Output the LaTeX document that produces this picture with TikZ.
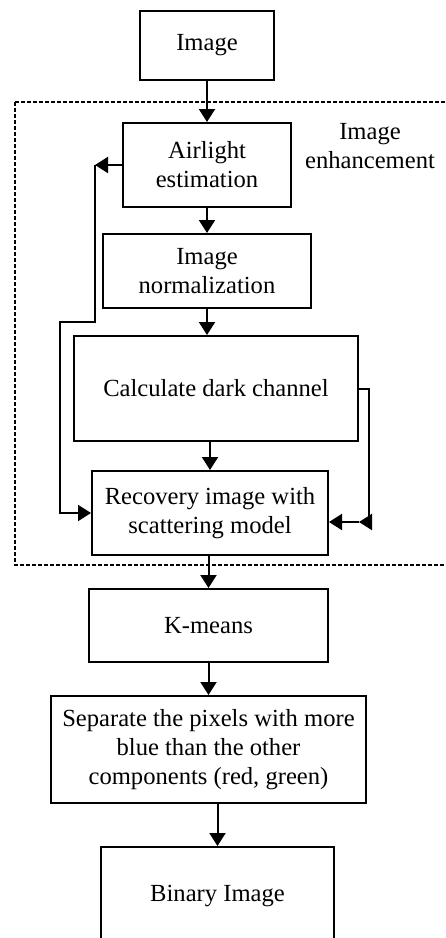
\documentclass[tikz,border=0pt]{standalone}
\usepackage{fontspec}
\setmainfont{Liberation Serif}
\usetikzlibrary{arrows.meta}

\tikzset{
  blk/.style={draw,line width=1pt,align=center,font=\fontsize{12.3}{14.5}\selectfont,inner sep=0pt},
  flow/.style={line width=1pt,-{Triangle[length=6.5pt,width=8pt]}},
  group/.style={line width=0.7pt,dash pattern=on 2pt off 1pt}
}

\begin{document}
\begin{tikzpicture}[x=0.5pt,y=-0.5pt]
\useasboundingbox (0,0) rectangle (445,938);
\clip (0,0) rectangle (445,938);

\node [blk,minimum width=67pt,minimum height=34.5pt] (img) at (207,45.5) {Image};

\node [blk,minimum width=84pt,minimum height=42pt] (air) at (207,165) {Airlight\\estimation};

\node [blk,minimum width=104pt,minimum height=37pt] (norm) at (207,271) {Image\\normalization};

\node [blk,minimum width=142pt,minimum height=52.5pt] (dark) at (216,388.5) {Calculate dark channel};

\node [blk,minimum width=118pt,minimum height=42pt] (rec) at (210,513) {Recovery image with\\scattering model};

\node [blk,minimum width=119.5pt,minimum height=36.5pt] (km) at (208.5,625.5) {K-means};

\node [blk,minimum width=157.5pt,minimum height=53.5pt] (sep) at (208.5,749.5) {Separate the pixels with more\\blue than the other\\components (red, green)};

\node [blk,minimum width=116.5pt,minimum height=49pt] (bin) at (217.5,896) {Binary Image};

% image enhancement group
\draw [group] (15,102) rectangle (460,565);
\node [font=\fontsize{12.3}{14.5}\selectfont,align=center,inner sep=0pt] (lbl) at (370,146) {Image\\enhancement};

% main flow
\draw [flow] (img.south) -- (air.north);
\draw [flow] (air.south) -- (norm.north);
\draw [flow] (norm.south) -- (norm.south |- dark.north);
\draw [flow] (dark.south -| rec.north) -- (rec.north);
\draw [flow] (rec.south) -- (rec.south -| km.north) -- (km.north);
\draw [flow] (km.south) -- (km.south |- sep.north);
\draw [flow] (sep.south -| bin.north) -- (bin.north);

% feedback from airlight
\coordinate (fbA) at (95,165);
\coordinate (fbB) at (95,322);
\coordinate (fbC) at (60,322);
\coordinate (fbD) at (60,513);
\draw [flow] (air.west) -- (fbA);
\draw [flow] (fbA) -- (fbB) -- (fbC) -- (fbD) -- (rec.west);

% dark channel to recovery
\coordinate (dcA) at (369,388.5);
\coordinate (dcB) at (369,522);
\coordinate (dcC) at (359,522);
\draw [flow] (dark.east) -- (dcA) -- (dcB) -- (dcC);
\draw [flow] (dcC) -- (rec.east |- dcB);

\end{tikzpicture}
\end{document}
